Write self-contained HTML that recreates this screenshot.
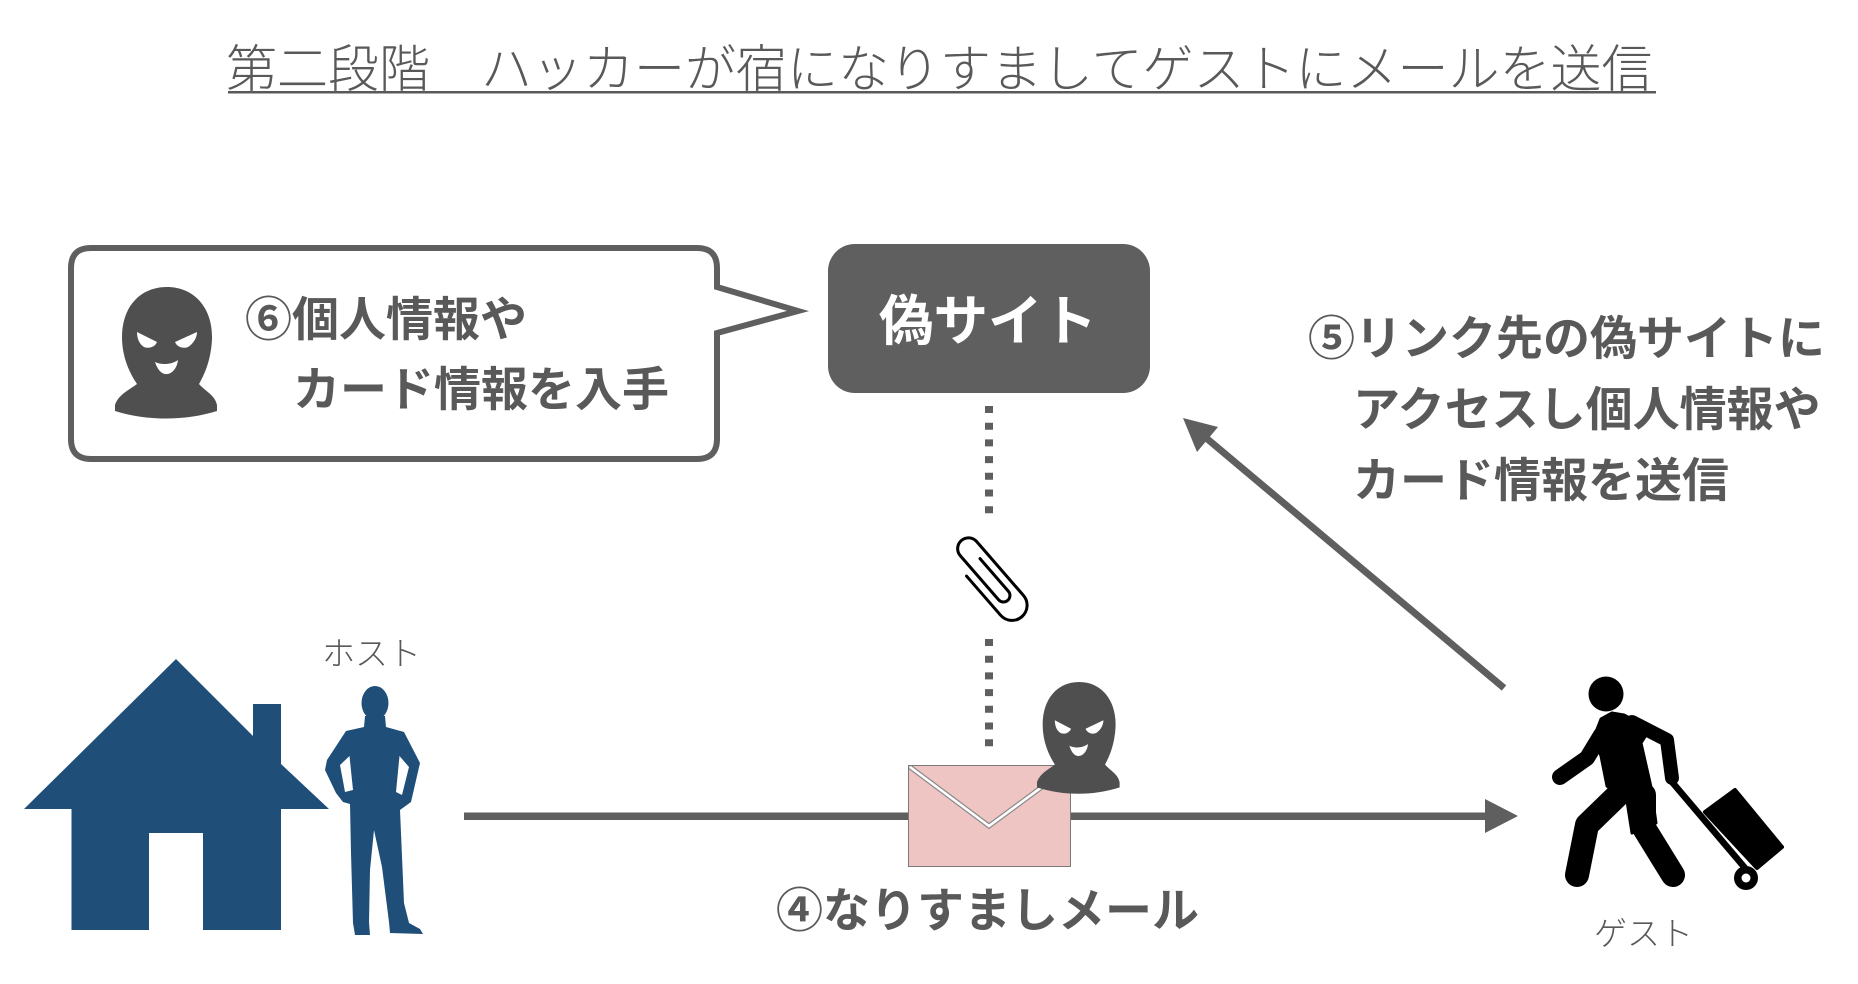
<!DOCTYPE html>
<html>
<head>
<meta charset="utf-8">
<style>
  html, body { margin: 0; padding: 0; background: #ffffff; }
  body { width: 1858px; height: 984px; overflow: hidden; }
  svg { display: block; }
  .jp { font-family: "Liberation Sans", "Noto Sans CJK JP", sans-serif; }
</style>
</head>
<body>
<svg width="1858" height="984" viewBox="0 0 1858 984" xmlns="http://www.w3.org/2000/svg">
  <defs>
    <g id="hacker">
      <path d="M 52 0 C 80 0 98 22 97 52 C 96 75 88 90 84 97 C 90 104 100 108 102 118 L 102 124 C 70 134 32 134 0 124 L 0 118 C 3 108 14 103 22 97 C 16 88 7 72 7 50 C 7 20 25 0 52 0 Z" fill="#4f4f4f"/>
      <path d="M 22 45 L 42 55 C 40 60 34 62 29 60 C 24 57 22 51 22 45 Z" fill="#ffffff"/>
      <path d="M 82 45 L 60 55 C 62 60 68 62 73 60 C 78 57 82 51 82 45 Z" fill="#ffffff"/>
      <path d="M 40 75 C 46 78 56 78 63 73 C 62 82 56 88 50 87 C 45 86 42 81 40 75 Z" fill="#ffffff"/>
    </g>
  </defs>

  <!-- Title -->
  <text class="jp" x="226" y="87" font-size="51" font-weight="300" fill="#595959">第二段階　ハッカーが宿になりすましてゲストにメールを送信</text>
  <rect x="228" y="91" width="1428" height="2.5" fill="#595959"/>

  <!-- Speech bubble -->
  <path d="M 91 248 H 697 Q 717 248 717 268 V 287 L 798 311 L 717 333 V 439 Q 717 459 697 459 H 91 Q 71 459 71 439 V 268 Q 71 248 91 248 Z"
        fill="#ffffff" stroke="#5f5f5f" stroke-width="6" stroke-linejoin="miter"/>
  <use href="#hacker" transform="translate(115,287)"/>
  <text class="jp" x="245" y="336" font-size="47" font-weight="700" fill="#595959">⑥個人情報や</text>
  <text class="jp" x="293" y="406" font-size="47" font-weight="700" fill="#595959">カード情報を入手</text>

  <!-- Fake site box -->
  <rect x="828" y="244" width="322" height="149" rx="27" ry="27" fill="#5f5f5f"/>
  <text class="jp" x="879" y="340" font-size="54.5" font-weight="700" fill="#ffffff">偽サイト</text>

  <!-- Dotted connectors -->
  <line x1="989" y1="406" x2="989" y2="514" stroke="#5f5f5f" stroke-width="8" stroke-dasharray="7 9.7"/>
  <line x1="989" y1="639" x2="989" y2="747" stroke="#5f5f5f" stroke-width="8" stroke-dasharray="7 9.7"/>

  <!-- Paperclip -->
  <g transform="translate(990,580) rotate(-41) scale(1.08) translate(0,-45)">
    <path d="M 6 24 V 64 A 6 6 0 0 1 -6 64 V 10 A 10 10 0 0 1 14 10 V 76 A 14 14 0 0 1 -14 76 V 28"
          fill="none" stroke="#000000" stroke-width="2.8" stroke-linecap="round"/>
  </g>

  <!-- Step 5 text -->
  <text class="jp" x="1308" y="355" font-size="47" font-weight="700" fill="#595959">⑤リンク先の偽サイトに</text>
  <text class="jp" x="1353" y="426" font-size="47" font-weight="700" fill="#595959">アクセスし個人情報や</text>
  <text class="jp" x="1353" y="497" font-size="47" font-weight="700" fill="#595959">カード情報を送信</text>

  <!-- Diagonal arrow -->
  <line x1="1504" y1="688" x2="1205" y2="437" stroke="#5f5f5f" stroke-width="7"/>
  <polygon points="1183,418 1218,427 1197,452" fill="#5f5f5f"/>

  <!-- Horizontal arrow -->
  <rect x="464" y="812.5" width="1022" height="7.5" fill="#5f5f5f"/>
  <polygon points="1485,799 1518,816 1485,833" fill="#5f5f5f"/>

  <!-- Envelope -->
  <rect x="908.5" y="765.5" width="162" height="101" fill="#efc5c3" stroke="#7a7a7a" stroke-width="1"/>
  <polyline points="910,767 989,826 1069,767" fill="none" stroke="#8a8a8a" stroke-width="5"/>
  <polyline points="910,767 989,826 1069,767" fill="none" stroke="#ffffff" stroke-width="2.6"/>

  <!-- Small hacker on envelope -->
  <use href="#hacker" transform="translate(1037,682) scale(0.81,0.85)"/>

  <!-- Step 4 text -->
  <text class="jp" x="776" y="927" font-size="47" font-weight="700" fill="#595959">④なりすましメール</text>

  <!-- House -->
  <path d="M 24 809 L 176 659 L 253 736 L 253 704 L 281 704 L 281 764 L 329 809 L 281 809 L 281 930 L 71.5 930 L 71.5 809 Z" fill="#1f4e79"/>
  <rect x="149" y="833" width="54" height="98" fill="#ffffff"/>

  <!-- Host person -->
  <ellipse cx="375" cy="703" rx="13.5" ry="17" fill="#1f4e79"/>
  <path d="M 365 716 L 364 727 L 346 731 L 327 760 L 325 770 L 336 793 L 343 802 L 350 804 L 351 853 L 353 923 L 355 935 L 370 935 L 369 922 L 370 870 L 374 830 L 382 867 L 389 922 L 390 933 L 423 934 L 420 929 L 409 923 L 404 903 L 400 810 L 411 802 L 420 763 L 404 732 L 386 727 L 385 716 Z" fill="#1f4e79"/>
  <path d="M 349.5 756 L 340 765 L 345 792 L 353 790 Z" fill="#ffffff"/>
  <path d="M 399.5 756 L 409 767 L 402 795 L 396 792 Z" fill="#ffffff"/>
  <text class="jp" x="322" y="665" font-size="33" font-weight="300" fill="#595959">ホスト</text>

  <!-- Guest figure -->
  <g fill="#000000" stroke="#000000">
    <circle cx="1606" cy="694" r="17.5" stroke="none"/>
    <polygon stroke="#000000" stroke-width="3" stroke-linejoin="round" points="1612,713 1624,715 1650,729 1641,743 1651,787 1656,823 1632,833 1627,801 1607,786 1601,756 1594,737 1601,719"/>
    <polyline fill="none" points="1601,735 1587,758 1560,777" stroke-width="16" stroke-linecap="round" stroke-linejoin="round"/>
    <polyline fill="none" points="1632,722 1667,740 1672,778" stroke-width="14" stroke-linecap="round" stroke-linejoin="round"/>
    <polyline fill="none" points="1620,793 1587,825 1577,875" stroke-width="24" stroke-linecap="round" stroke-linejoin="round"/>
    <polyline fill="none" points="1644,795 1644,828 1673,875" stroke-width="24" stroke-linecap="round" stroke-linejoin="round"/>
    <line x1="1672" y1="782" x2="1745" y2="868" stroke-width="6.5"/>
    <polygon points="1705,812 1735,790 1782,847 1757,868" stroke-width="4" stroke-linejoin="round"/>
    <circle cx="1746" cy="878" r="12" stroke="none"/>
    <circle cx="1746" cy="878" r="4.5" fill="#ffffff" stroke="none"/>
  </g>
  <text class="jp" x="1594" y="945" font-size="33" font-weight="300" fill="#595959">ゲスト</text>
</svg>
</body>
</html>
